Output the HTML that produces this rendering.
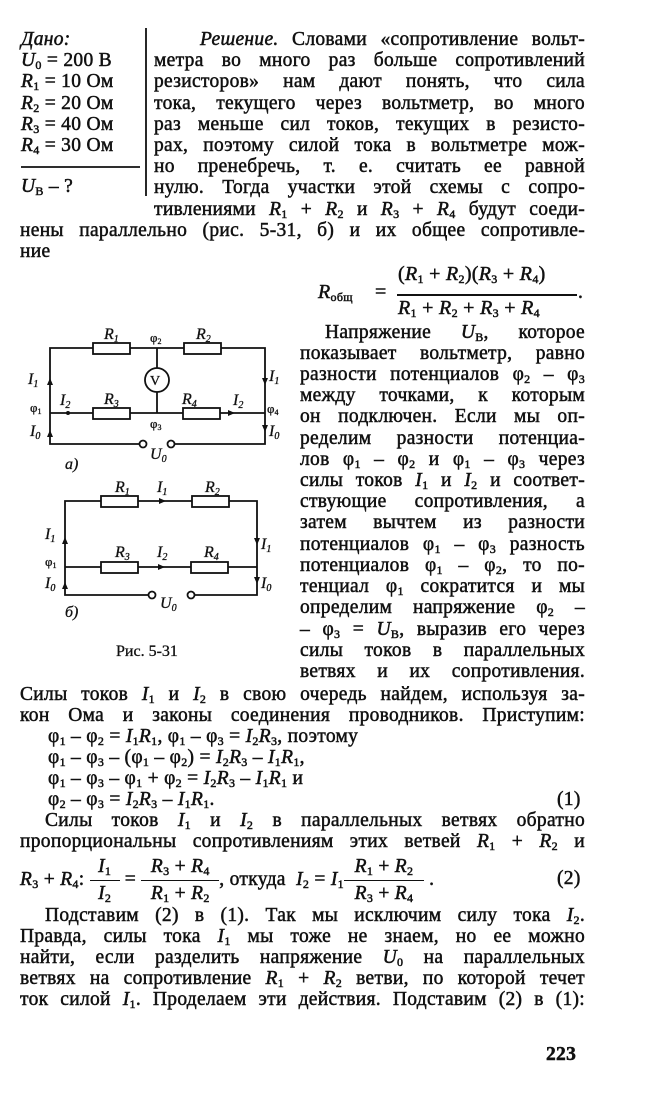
<!DOCTYPE html>
<html><head><meta charset="utf-8">
<style>
body{margin:0;width:668px;height:1104px;background:#fff;position:relative;overflow:hidden;font-family:"Liberation Serif","DejaVu Serif",serif;color:#111;}
.l{position:absolute;font-size:19.5px;letter-spacing:0.3px;line-height:21px;height:22px;text-align:justify;text-align-last:justify;-webkit-text-stroke:0.5px #111;}
.n{text-align:left;text-align-last:left;}
sub{font-size:12px;vertical-align:-3px;line-height:0;font-style:normal}
i{font-style:italic}
svg{position:absolute;left:0;top:0}
.fr{display:inline-block;vertical-align:middle;text-align:center;text-align-last:center;}
.fr span{display:block;line-height:26px;}
.fr span.top{border-bottom:1.5px solid #111;}
</style></head><body>
<!-- Given -->
<div class="l n" style="left:21px;top:29px;"><i>Дано:</i></div>
<div class="l n" style="left:21px;top:50px;"><i>U</i><sub>0</sub> = 200 В</div>
<div class="l n" style="left:21px;top:71px;"><i>R</i><sub>1</sub> = 10 Ом</div>
<div class="l n" style="left:21px;top:93px;"><i>R</i><sub>2</sub> = 20 Ом</div>
<div class="l n" style="left:21px;top:114px;"><i>R</i><sub>3</sub> = 40 Ом</div>
<div class="l n" style="left:21px;top:135px;"><i>R</i><sub>4</sub> = 30 Ом</div>
<div class="l n" style="left:21px;top:176px;"><i>U</i><sub>В</sub> – ?</div>

<div class="l" style="left:200px;width:385px;top:29px;"><i>Решение.</i> Словами «сопротивление вольт-</div>
<div class="l" style="left:154px;width:431px;top:50px;">метра во много раз больше сопротивлений</div>
<div class="l" style="left:154px;width:431px;top:71px;">резисторов» нам дают понять, что сила</div>
<div class="l" style="left:154px;width:431px;top:93px;">тока, текущего через вольтметр, во много</div>
<div class="l" style="left:154px;width:431px;top:114px;">раз меньше сил токов, текущих в резисто-</div>
<div class="l" style="left:154px;width:431px;top:135px;">рах, поэтому силой тока в вольтметре мож-</div>
<div class="l" style="left:154px;width:431px;top:156px;">но пренебречь, т. е. считать ее равной</div>
<div class="l" style="left:154px;width:431px;top:177px;">нулю. Тогда участки этой схемы с сопро-</div>
<div class="l" style="left:154px;width:431px;top:199px;">тивлениями <i>R</i><sub>1</sub> + <i>R</i><sub>2</sub> и <i>R</i><sub>3</sub> + <i>R</i><sub>4</sub> будут соеди-</div>
<div class="l" style="left:20px;width:565px;top:220px;">нены параллельно (рис. 5-31, б) и их общее сопротивле-</div>
<div class="l n" style="left:20px;top:241px;">ние</div>

<!-- formula -->
<div class="l n" style="left:318px;top:282px;font-size:20px;"><i>R</i><span style="font-size:12px;vertical-align:-3px">общ</span></div>
<div class="l n" style="left:375px;top:282px;font-size:20px;">=</div>
<div class="l n" style="left:398px;top:264px;font-size:20px;">(<i>R</i><sub>1</sub> + <i>R</i><sub>2</sub>)(<i>R</i><sub>3</sub> + <i>R</i><sub>4</sub>)</div>
<div class="l n" style="left:398px;top:298px;font-size:20px;"><i>R</i><sub>1</sub> + <i>R</i><sub>2</sub> + <i>R</i><sub>3</sub> + <i>R</i><sub>4</sub></div>
<div style="position:absolute;left:397px;top:294px;width:180px;height:1.5px;background:#111"></div>
<div class="l n" style="left:578px;top:282px;">.</div>

<!-- right column -->
<div class="l" style="left:325px;width:260px;top:322px;">Напряжение <i>U</i><sub>В</sub>, которое</div>
<div class="l" style="left:300px;width:285px;top:343px;">показывает вольтметр, равно</div>
<div class="l" style="left:300px;width:285px;top:364px;">разности потенциалов φ<sub>2</sub> – φ<sub>3</sub></div>
<div class="l" style="left:300px;width:285px;top:385px;">между точками, к которым</div>
<div class="l" style="left:300px;width:285px;top:406px;">он подключен. Если мы оп-</div>
<div class="l" style="left:300px;width:285px;top:428px;">ределим разности потенциа-</div>
<div class="l" style="left:300px;width:285px;top:449px;">лов φ<sub>1</sub> – φ<sub>2</sub> и φ<sub>1</sub> – φ<sub>3</sub> через</div>
<div class="l" style="left:300px;width:285px;top:470px;">силы токов <i>I</i><sub>1</sub> и <i>I</i><sub>2</sub> и соответ-</div>
<div class="l" style="left:300px;width:285px;top:491px;">ствующие сопротивления, а</div>
<div class="l" style="left:300px;width:285px;top:512px;">затем вычтем из разности</div>
<div class="l" style="left:300px;width:285px;top:534px;">потенциалов φ<sub>1</sub> – φ<sub>3</sub> разность</div>
<div class="l" style="left:300px;width:285px;top:555px;">потенциалов φ<sub>1</sub> – φ<sub>2</sub>, то по-</div>
<div class="l" style="left:300px;width:285px;top:576px;">тенциал φ<sub>1</sub> сократится и мы</div>
<div class="l" style="left:300px;width:285px;top:597px;">определим напряжение φ<sub>2</sub> –</div>
<div class="l" style="left:300px;width:285px;top:619px;">– φ<sub>3</sub> = <i>U</i><sub>В</sub>, выразив его через</div>
<div class="l" style="left:300px;width:285px;top:640px;">силы токов в параллельных</div>
<div class="l" style="left:300px;width:285px;top:661px;">ветвях и их сопротивления.</div>

<!-- lower -->
<div class="l" style="left:20px;width:565px;top:684px;">Силы токов <i>I</i><sub>1</sub> и <i>I</i><sub>2</sub> в свою очередь найдем, используя за-</div>
<div class="l" style="left:20px;width:565px;top:705px;">кон Ома и законы соединения проводников. Приступим:</div>
<div class="l n" style="left:48px;top:726px;">φ<sub>1</sub> – φ<sub>2</sub> = <i>I</i><sub>1</sub><i>R</i><sub>1</sub>, φ<sub>1</sub> – φ<sub>3</sub> = <i>I</i><sub>2</sub><i>R</i><sub>3</sub>, поэтому</div>
<div class="l n" style="left:48px;top:747px;">φ<sub>1</sub> – φ<sub>3</sub> – (φ<sub>1</sub> – φ<sub>2</sub>) = <i>I</i><sub>2</sub><i>R</i><sub>3</sub> – <i>I</i><sub>1</sub><i>R</i><sub>1</sub>,</div>
<div class="l n" style="left:48px;top:768px;">φ<sub>1</sub> – φ<sub>3</sub> – φ<sub>1</sub> + φ<sub>2</sub> = <i>I</i><sub>2</sub><i>R</i><sub>3</sub> – <i>I</i><sub>1</sub><i>R</i><sub>1</sub> и</div>
<div class="l n" style="left:48px;top:789px;">φ<sub>2</sub> – φ<sub>3</sub> = <i>I</i><sub>2</sub><i>R</i><sub>3</sub> – <i>I</i><sub>1</sub><i>R</i><sub>1</sub>.</div>
<div class="l n" style="left:557px;top:789px;">(1)</div>
<div class="l" style="left:45px;width:540px;top:810px;">Силы токов <i>I</i><sub>1</sub> и <i>I</i><sub>2</sub> в параллельных ветвях обратно</div>
<div class="l" style="left:20px;width:565px;top:831px;">пропорциональны сопротивлениям этих ветвей <i>R</i><sub>1</sub> + <i>R</i><sub>2</sub> и</div>

<div class="l n" style="left:20px;top:852px;height:56px;line-height:56px;white-space:nowrap;">
<i>R</i><sub>3</sub> + <i>R</i><sub>4</sub>:&nbsp;<span class="fr" style="width:30px"><span class="top"><i>I</i><sub>1</sub></span><span><i>I</i><sub>2</sub></span></span> = <span class="fr" style="width:78px"><span class="top"><i>R</i><sub>3</sub> + <i>R</i><sub>4</sub></span><span><i>R</i><sub>1</sub> + <i>R</i><sub>2</sub></span></span>, откуда &nbsp;<i>I</i><sub>2</sub> = <i>I</i><sub>1</sub><span class="fr" style="width:80px"><span class="top"><i>R</i><sub>1</sub> + <i>R</i><sub>2</sub></span><span><i>R</i><sub>3</sub> + <i>R</i><sub>4</sub></span></span> .</div>
<div class="l n" style="left:557px;top:868px;">(2)</div>

<div class="l" style="left:45px;width:540px;top:905px;">Подставим (2) в (1). Так мы исключим силу тока <i>I</i><sub>2</sub>.</div>
<div class="l" style="left:20px;width:565px;top:926px;">Правда, силы тока <i>I</i><sub>1</sub> мы тоже не знаем, но ее можно</div>
<div class="l" style="left:20px;width:565px;top:947px;">найти, если разделить напряжение <i>U</i><sub>0</sub> на параллельных</div>
<div class="l" style="left:20px;width:565px;top:968px;">ветвях на сопротивление <i>R</i><sub>1</sub> + <i>R</i><sub>2</sub> ветви, по которой течет</div>
<div class="l" style="left:20px;width:565px;top:989px;">ток силой <i>I</i><sub>1</sub>. Проделаем эти действия. Подставим (2) в (1):</div>
<div class="l n" style="left:546px;top:1044px;font-weight:bold;">223</div>

<svg width="668" height="1104" viewBox="0 0 668 1104">
<g stroke="#111" stroke-width="1.8" fill="none">
<line x1="146" y1="28" x2="146" y2="196"/>
<line x1="21" y1="167" x2="140" y2="167"/>
<!-- circuit a -->
<polyline points="93,348 50,348 50,444 139,444"/>
<polyline points="175,444 265,444 265,348 221,348"/>
<line x1="130" y1="348" x2="184" y2="348"/>
<line x1="50" y1="413" x2="93" y2="413"/>
<line x1="130" y1="413" x2="183" y2="413"/>
<line x1="220" y1="413" x2="265" y2="413"/>
<rect x="93" y="343" width="37" height="11" fill="#fff"/>
<rect x="184" y="343" width="37" height="11" fill="#fff"/>
<rect x="93" y="408" width="37" height="11" fill="#fff"/>
<rect x="183" y="408" width="37" height="11" fill="#fff"/>
<line x1="157" y1="348" x2="157" y2="368"/>
<line x1="157" y1="392" x2="157" y2="413"/>
<circle cx="157" cy="380" r="12" fill="#fff"/>
<circle cx="143" cy="444" r="3.5" fill="#fff"/>
<circle cx="171" cy="444" r="3.5" fill="#fff"/>
<!-- circuit b -->
<polyline points="101,501 65,501 65,595 148,595"/>
<polyline points="195,595 257,595 257,501 229,501"/>
<line x1="138" y1="501" x2="192" y2="501"/>
<line x1="65" y1="567" x2="101" y2="567"/>
<line x1="138" y1="567" x2="191" y2="567"/>
<line x1="228" y1="567" x2="257" y2="567"/>
<rect x="101" y="496" width="37" height="11" fill="#fff"/>
<rect x="192" y="496" width="37" height="11" fill="#fff"/>
<rect x="101" y="562" width="37" height="11" fill="#fff"/>
<rect x="191" y="562" width="37" height="11" fill="#fff"/>
<circle cx="152" cy="595" r="3.5" fill="#fff"/>
<circle cx="191" cy="595" r="3.5" fill="#fff"/>
</g>
<g fill="#111">
<circle cx="68" cy="413" r="2"/>
<polygon points="50,378 47,385 53,385"/><polygon points="50,430 47,437 53,437"/>
<polygon points="265,385 262,378 268,378"/><polygon points="265,432 262,425 268,425"/>
<polygon points="235,413 228,410 228,416"/>
<polygon points="65,537 62,544 68,544"/><polygon points="65,582 62,589 68,589"/>
<polygon points="257,545 254,538 260,538"/><polygon points="257,584 254,577 260,577"/>
<polygon points="166,501 159,498 159,504"/><polygon points="165,567 158,564 158,570"/>
</g>
<g font-family="Liberation Serif,serif" font-size="16" fill="#111" stroke="#111" stroke-width="0.3">
<text x="104" y="339" font-style="italic">R<tspan font-size="10" dy="3">1</tspan></text>
<text x="196" y="339" font-style="italic">R<tspan font-size="10" dy="3">2</tspan></text>
<text x="150" y="342" font-size="13">φ<tspan font-size="8" dy="2">2</tspan></text>
<text x="150" y="385" font-size="14">V</text>
<text x="104" y="404" font-style="italic">R<tspan font-size="10" dy="3">3</tspan></text>
<text x="182" y="404" font-style="italic">R<tspan font-size="10" dy="3">4</tspan></text>
<text x="60" y="405" font-style="italic">I<tspan font-size="10" dy="3">2</tspan></text>
<text x="233" y="405" font-style="italic">I<tspan font-size="10" dy="3">2</tspan></text>
<text x="150" y="428" font-size="13">φ<tspan font-size="8" dy="2">3</tspan></text>
<text x="28" y="384" font-style="italic">I<tspan font-size="10" dy="3">1</tspan></text>
<text x="269" y="381" font-style="italic">I<tspan font-size="10" dy="3">1</tspan></text>
<text x="30" y="412" font-size="13">φ<tspan font-size="8" dy="2">1</tspan></text>
<text x="267" y="413" font-size="13">φ<tspan font-size="8" dy="2">4</tspan></text>
<text x="30" y="436" font-style="italic">I<tspan font-size="10" dy="3">0</tspan></text>
<text x="269" y="436" font-style="italic">I<tspan font-size="10" dy="3">0</tspan></text>
<text x="150" y="459" font-style="italic">U<tspan font-size="10" dy="3">0</tspan></text>
<text x="65" y="469" font-style="italic">а)</text>
<text x="115" y="492" font-style="italic">R<tspan font-size="10" dy="3">1</tspan></text>
<text x="157" y="492" font-style="italic">I<tspan font-size="10" dy="3">1</tspan></text>
<text x="205" y="492" font-style="italic">R<tspan font-size="10" dy="3">2</tspan></text>
<text x="115" y="557" font-style="italic">R<tspan font-size="10" dy="3">3</tspan></text>
<text x="157" y="557" font-style="italic">I<tspan font-size="10" dy="3">2</tspan></text>
<text x="204" y="557" font-style="italic">R<tspan font-size="10" dy="3">4</tspan></text>
<text x="45" y="539" font-style="italic">I<tspan font-size="10" dy="3">1</tspan></text>
<text x="261" y="549" font-style="italic">I<tspan font-size="10" dy="3">1</tspan></text>
<text x="45" y="566" font-size="13">φ<tspan font-size="8" dy="2">1</tspan></text>
<text x="45" y="588" font-style="italic">I<tspan font-size="10" dy="3">0</tspan></text>
<text x="261" y="588" font-style="italic">I<tspan font-size="10" dy="3">0</tspan></text>
<text x="160" y="608" font-style="italic">U<tspan font-size="10" dy="3">0</tspan></text>
<text x="65" y="617" font-style="italic">б)</text>
<text x="116" y="656" font-size="16">Рис. 5-31</text>
</g>
</svg>
</body></html>
